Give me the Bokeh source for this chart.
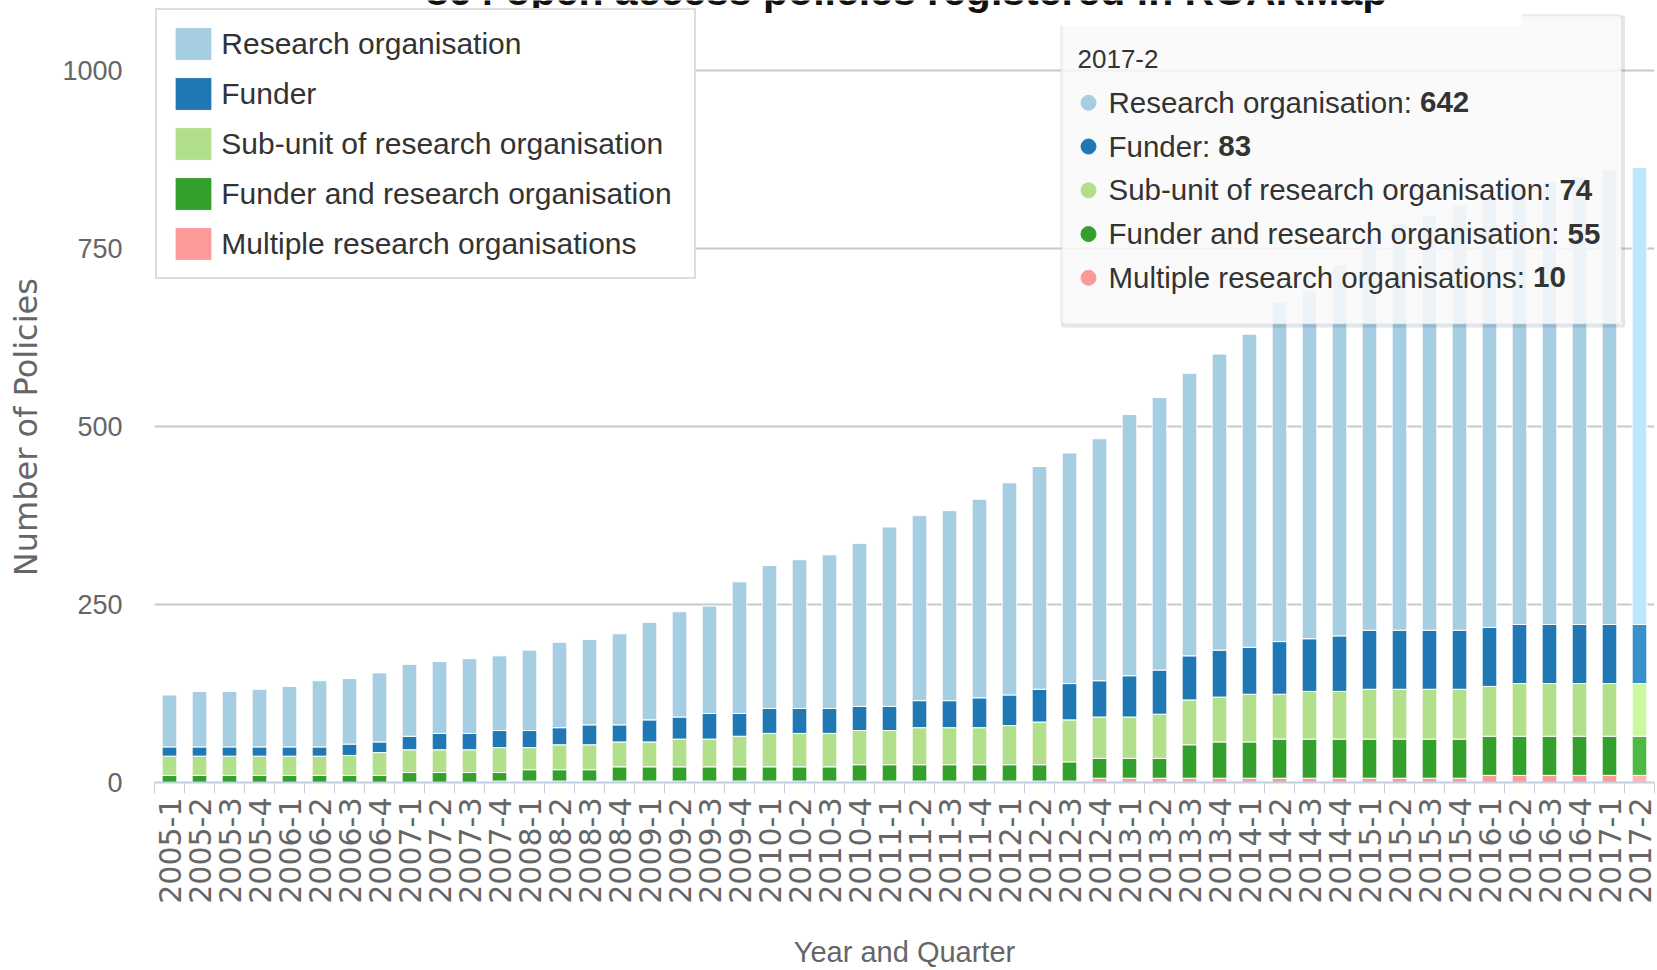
import math
import numpy as np
from bokeh.plotting import figure
from bokeh.models import (ColumnDataSource, Range1d, FixedTicker, Legend, LegendItem,
                          BoxAnnotation, Label)
from bokeh.embed import file_html
from bokeh.resources import INLINE

# ---------------- data ----------------
quarters = [f"{y}-{q}" for y in range(2005, 2018) for q in (1, 2, 3, 4)][:50]

research_org = [73, 78, 78, 81, 85, 93, 92, 97, 101, 101, 105, 105, 113, 120, 120, 128,
                137, 148, 151, 185, 201, 209, 216, 229, 252, 260, 267, 279, 298, 313,
                324, 340, 367, 383, 397, 416, 440, 477, 489, 521, 548, 572, 583, 597,
                603, 611, 622, 629, 639, 642]
funder = [13, 13, 13, 13, 13, 13, 16, 15, 19, 23, 23, 24, 24, 24, 28, 24, 31, 31, 36, 32,
          35, 35, 35, 34, 34, 38, 38, 42, 43, 46, 51, 51, 58, 62, 62, 66, 66, 74, 74, 78,
          83, 83, 83, 83, 83, 83, 83, 83, 83, 83]
sub_unit = [27, 27, 27, 27, 27, 27, 28, 32, 32, 32, 32, 35, 31, 35, 35, 35, 35, 39, 39, 43,
            47, 47, 47, 48, 48, 52, 52, 52, 55, 60, 59, 58, 58, 62, 63, 63, 67, 63, 67, 67,
            70, 70, 70, 70, 70, 74, 74, 74, 74, 74]
funder_and_ro = [10, 10, 10, 10, 10, 10, 10, 10, 14, 14, 14, 12, 16, 16, 16, 20, 20, 20, 20,
                 20, 20, 20, 20, 23, 23, 23, 23, 23, 23, 23, 27, 28, 28, 28, 47, 51, 51, 55,
                 55, 55, 55, 55, 55, 55, 55, 55, 55, 55, 55, 55]
multiple = [0, 0, 0, 0, 0, 0, 0, 0, 0, 0, 0, 2, 2, 2, 2, 2, 2, 2, 2, 2, 2, 2, 2, 2, 2, 2, 2,
            2, 2, 2, 2, 6, 6, 6, 6, 6, 6, 6, 6, 6, 6, 6, 6, 6, 10, 10, 10, 10, 10, 10]

y_ticks = [0, 250, 500, 750, 1000]
chart_title = "864 open access policies registered in ROARMap"
x_title = "Year and Quarter"
y_title = "Number of Policies"

# ---------------- layout constants ----------------
SANS = "Liberation Sans"
DJV = "DejaVu Sans"
W, H = 1657, 970
ML, MR, MB = 154, 3, 188
FRAME_W = W - ML - MR
FRAME_H = H - MB
N = len(quarters)
PITCH = FRAME_W / N
PPU = 0.7117
Y_END = FRAME_H / PPU
BASE_FIX = 0.30  # label baseline correction (em)


def dx(sx):
    return (sx - ML) / PITCH - 0.5


def dy(sy):
    return (FRAME_H - sy) / PPU


# Arial / Liberation Sans advance widths (em)
_AW = {'R': .722, 'e': .556, 's': .5, 'a': .556, 'r': .333, 'c': .5, 'h': .556, 'o': .556,
       'g': .556, 'n': .556, 'i': .222, 't': .278, ':': .278, ' ': .278, 'F': .611,
       'u': .556, 'd': .556, 'S': .667, 'b': .556, '-': .333, 'f': .278, 'M': .833,
       'l': .222, 'p': .556}


def text_width(txt, size):
    return sum(_AW.get(c, .556) for c in txt) * size


p = figure(width=W, height=H, x_range=Range1d(-0.5, N - 0.5), y_range=Range1d(0, Y_END),
           output_backend="svg", toolbar_location=None,
           min_border_left=ML, min_border_right=MR, min_border_top=0, min_border_bottom=MB)
p.title.visible = False
p.outline_line_color = None
p.background_fill_color = "white"
p.border_fill_color = "white"

# ---------------- bars ----------------
series = [
    ("Multiple research organisations", multiple, "#FB9A99", "#FFB3B2"),
    ("Funder and research organisation", funder_and_ro, "#33A02C", "#4CB945"),
    ("Sub-unit of research organisation", sub_unit, "#B2DF8A", "#CBF8A3"),
    ("Funder", funder, "#1F78B4", "#3891CD"),
    ("Research organisation", research_org, "#A6CEE3", "#BFE7FC"),
]
xs = list(range(N))
bottom = np.zeros(N)
rends = {}
for name, vals, col, hcol in series:
    top = bottom + np.array(vals, dtype=float)
    colors = [col] * (N - 1) + [hcol]
    src = ColumnDataSource(dict(x=xs, bottom=bottom.copy(), top=top, color=colors))
    r = p.vbar(x='x', width=0.49, bottom='bottom', top='top', fill_color='color',
               line_color='white', line_width=1, source=src)
    rends[name] = r
    bottom = top

# ---------------- axes / grid ----------------
p.xgrid.visible = False
p.ygrid.ticker = FixedTicker(ticks=y_ticks[1:])
p.ygrid.grid_line_color = "#C8C8C8"
p.ygrid.grid_line_width = 2

xa = p.xaxis[0]
xa.ticker = FixedTicker(ticks=xs, minor_ticks=[i - 0.5 for i in range(N + 1)])
xa.major_label_overrides = {i: q for i, q in enumerate(quarters)}
xa.major_label_orientation = math.pi / 2
xa.major_tick_line_color = None
xa.major_tick_out = 0
xa.major_tick_in = 0
xa.minor_tick_line_color = "#C0D0E0"
xa.minor_tick_out = 11
xa.minor_tick_in = 0
xa.axis_line_color = "#C0D0E0"
xa.axis_line_width = 2
xa.major_label_standoff = 4
xa.major_label_text_font = DJV
xa.major_label_text_font_size = "30px"
xa.major_label_text_color = "#666666"
xa.axis_label = x_title
xa.axis_label_text_font = SANS
xa.axis_label_text_font_size = "29px"
xa.axis_label_text_font_style = "normal"
xa.axis_label_text_color = "#666666"
xa.axis_label_standoff = 29

ya = p.yaxis[0]
ya.ticker = FixedTicker(ticks=y_ticks)
ya.axis_line_color = None
ya.major_tick_line_color = None
ya.minor_tick_line_color = None
ya.major_tick_out = 0
ya.major_tick_in = 0
ya.major_label_standoff = 32
ya.major_label_text_font = SANS
ya.major_label_text_font_size = "27px"
ya.major_label_text_color = "#666666"
# trailing no-break spaces move the centred title down to the middle of the 0-1000 span
ya.axis_label = y_title + "\u00a0" * 7
ya.axis_label_text_font = DJV
ya.axis_label_text_font_size = "32px"
ya.axis_label_text_font_style = "normal"
ya.axis_label_text_color = "#666666"
ya.axis_label_standoff = 14

# ---------------- legend ----------------
legend_order = ["Research organisation", "Funder", "Sub-unit of research organisation",
                "Funder and research organisation", "Multiple research organisations"]
legend = Legend(items=[LegendItem(label=n, renderers=[rends[n]]) for n in legend_order],
                location=(1.3, FRAME_H - 279), padding=13, spacing=9,
                glyph_width=46, glyph_height=41, label_standoff=5, label_width=460,
                label_text_font=SANS, label_text_font_size="30px", label_text_color="#333333",
                border_line_color="#BBBBBB", border_line_width=2,
                background_fill_color="white", background_fill_alpha=1.0)
p.add_layout(legend)

# ---------------- tooltip (hovered 2017-2) ----------------
shadow = BoxAnnotation(left=dx(1062), right=dx(1623), top=dy(16.5), bottom=dy(325.5),
                       fill_color=None, line_color="black", line_alpha=0.10, line_width=3)
p.add_layout(shadow)
tip = BoxAnnotation(left=dx(1060.5), right=dx(1621), top=dy(14.5), bottom=dy(323.5),
                    fill_color="#F9F9F9", fill_alpha=0.85, line_color="#9DC9E2",
                    line_width=1.5, border_radius=4)
p.add_layout(tip)

HEAD_SZ, ROW_SZ = 26, 29.5
p.add_layout(Label(x=dx(1077), y=dy(66 - BASE_FIX * HEAD_SZ), text=quarters[-1],
                   text_font=SANS, text_font_size=f"{HEAD_SZ}px", text_color="#333333",
                   text_baseline="alphabetic"))

tip_rows = [(n, v[-1], c) for (n, v, c, _) in reversed(series)]
dot_x, dot_y, dot_c = [], [], []
for k, (name, val, col) in enumerate(tip_rows):
    base = 110.7 + k * 43.75
    head = name + ": "
    ly = dy(base - BASE_FIX * ROW_SZ)
    p.add_layout(Label(x=dx(1108), y=ly, text=head, text_font=SANS,
                       text_font_size=f"{ROW_SZ}px", text_color="#333333",
                       text_baseline="alphabetic"))
    p.add_layout(Label(x=dx(1108 + text_width(head, ROW_SZ)), y=ly, text=str(val),
                       text_font=SANS, text_font_size=f"{ROW_SZ}px", text_font_style="bold",
                       text_color="#333333", text_baseline="alphabetic"))
    dot_x.append(dx(1088))
    dot_y.append(dy(102.3 + k * 43.75))
    dot_c.append(col)
p.scatter(x=dot_x, y=dot_y, size=15, color=dot_c, level="overlay")

# ---------------- clipped chart title ----------------
TITLE_SZ = 41
p.add_layout(BoxAnnotation(left=dx(213), right=dx(1521), top=dy(-5), bottom=dy(25),
                           fill_color="white", fill_alpha=1.0, line_color=None,
                           level="overlay"))
p.add_layout(Label(x=dx(906), y=dy(2.5 - BASE_FIX * TITLE_SZ), text=chart_title,
                   text_font=SANS, text_font_style="bold", text_font_size=f"{TITLE_SZ}px",
                   text_color="#111111", text_align="center", text_baseline="alphabetic",
                   level="overlay"))

open("out.html", "w").write(file_html(p, INLINE))
